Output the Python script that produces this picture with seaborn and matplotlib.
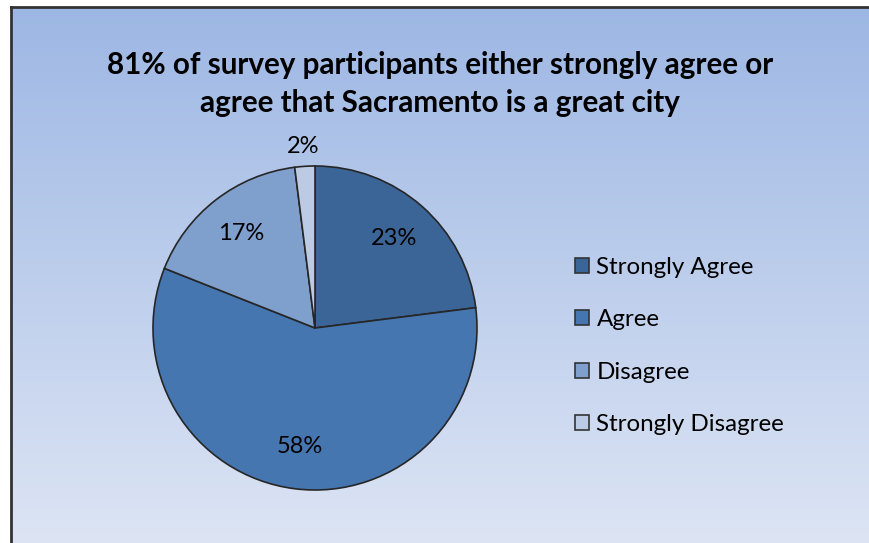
import numpy as np
import matplotlib
matplotlib.use("Agg")
import matplotlib.pyplot as plt
import matplotlib.patches as mpatches
import seaborn as sns

# datos
categorias = ["Strongly Agree", "Agree", "Disagree", "Strongly Disagree"]
porcentajes = [23, 58, 17, 2]
colores = ["#3b6497", "#4676b0", "#7f9fcd", "#bccbe3"]
titulo = "81% of survey participants either strongly agree or\nagree that Sacramento is a great city"

sns.set_theme(style="white")
plt.rcParams['font.family'] = ['Lato', 'DejaVu Sans']
plt.rcParams['text.color'] = 'black'

W, H = 869, 543
fig = plt.figure(figsize=(W / 100, H / 100), dpi=100)
fig.patch.set_facecolor("white")

# fondo con degradado (borde solo arriba e izquierda, el resto queda fuera)
bg = fig.add_axes([11 / W, -0.05, 1.05 - 11 / W, 1.05 - 7 / H])
top = np.array([157, 183, 228]) / 255
bot = np.array([224, 231, 245]) / 255
t = np.linspace(0, 1, 256)[:, None]
grad = top[None, :] * (1 - t) + bot[None, :] * t
bg.imshow(grad[:, None, :].repeat(2, axis=1), aspect="auto", extent=[0, 1, 0, 1])
bg.set_xticks([])
bg.set_yticks([])
for s in bg.spines.values():
    s.set_color("#333333")
    s.set_linewidth(2)

# pastel
cx, cy, r = 315, 328, 162
half = r * 1.3
ax = fig.add_axes([(cx - half) / W, (H - cy - half) / H, 2 * half / W, 2 * half / H])
wedges, texts, autotexts = ax.pie(
    porcentajes, colors=colores, startangle=90, counterclock=False,
    autopct="%d%%", pctdistance=0.74,
    wedgeprops=dict(edgecolor="#262626", linewidth=1.2),
    textprops=dict(fontsize=17, color="black"))
ax.set_xlim(-1.3, 1.3)
ax.set_ylim(-1.3, 1.3)
ax.set_aspect("equal")
ax.axis("off")

# el 2% va fuera
ang = np.deg2rad(90 - 360 * 0.99)
autotexts[3].set_position((1.12 * np.cos(ang), 1.12 * np.sin(ang)))

fig.text(440 / W, 1 - 84 / H, titulo, ha="center", va="center",
         fontsize=21.3, fontweight="bold", linespacing=1.42)

handles = [mpatches.Patch(facecolor=c, edgecolor="#333333", linewidth=1.2, label=l)
           for c, l in zip(colores, categorias)]
fig.legend(handles=handles, loc="center left", bbox_to_anchor=(553 / W, 1 - 346 / H),
           frameon=False, fontsize=17.4, handlelength=0.6, handleheight=0.6,
           handletextpad=0.3, labelspacing=1.3)

fig.savefig("out.png", dpi=100)
